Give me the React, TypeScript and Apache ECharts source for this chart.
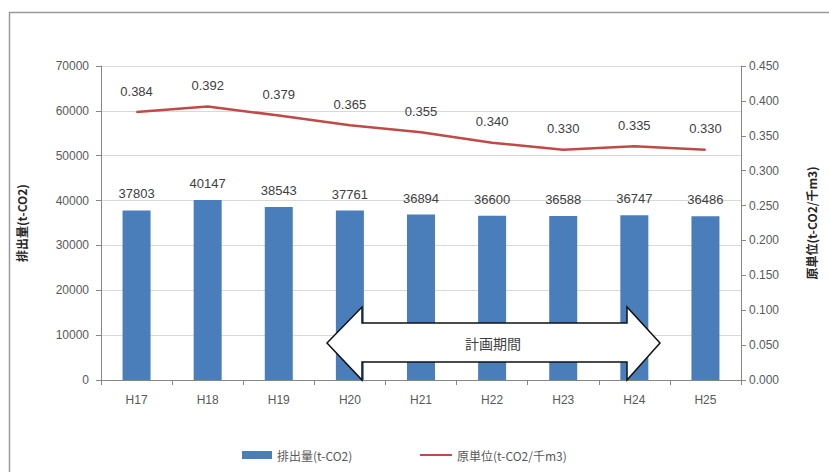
import React, { useEffect, useRef } from "react";
import * as echarts from "echarts";

const categories = ["H17", "H18", "H19", "H20", "H21", "H22", "H23", "H24", "H25"];
const emissions = [37803, 40147, 38543, 37761, 36894, 36600, 36588, 36747, 36486];
const intensity = [0.384, 0.392, 0.379, 0.365, 0.355, 0.34, 0.33, 0.335, 0.33];
const barName = "排出量(t-CO2)";
const lineName = "原単位(t-CO2/千m3)";
const arrowText = "計画期間";

const JP = '"Noto Sans CJK JP", "Noto Sans", sans-serif';
const NUM = '"Liberation Sans", "DejaVu Sans", sans-serif';

export default function App() {
  const ref = useRef<HTMLDivElement>(null);
  useEffect(() => {
    if (!ref.current) return;
    const chart = echarts.init(ref.current, null, { renderer: "svg" });
    const arrowPts = [
      [327, 343],
      [362, 307],
      [362, 323],
      [627, 323],
      [627, 307],
      [660, 343],
      [627, 380],
      [627, 362],
      [362, 362],
      [362, 380],
    ];
    const legendText = { fontFamily: JP, fontSize: 12, color: "#595959" };
    chart.setOption({
      animation: false,
      backgroundColor: "#ffffff",
      grid: { left: 101, right: 88, top: 66, bottom: 92 },
      legend: [
        {
          left: 237,
          top: 444,
          itemWidth: 30,
          itemHeight: 8,
          textStyle: legendText,
          data: [{ name: barName, icon: "rect" }],
        },
        {
          left: 415,
          top: 444,
          itemWidth: 32,
          itemHeight: 2,
          textStyle: legendText,
          data: [{ name: lineName, icon: "rect" }],
        },
      ],
      xAxis: {
        type: "category",
        data: categories,
        axisLine: { lineStyle: { color: "#868686" } },
        axisTick: { show: true, length: 5, lineStyle: { color: "#868686" } },
        axisLabel: { color: "#595959", fontFamily: NUM, fontSize: 12, margin: 14 },
      },
      yAxis: [
        {
          type: "value",
          min: 0,
          max: 70000,
          interval: 10000,
          name: barName,
          nameLocation: "middle",
          nameGap: 74,
          nameRotate: 90,
          nameTextStyle: { fontFamily: JP, fontSize: 12, fontWeight: "bold", color: "#262626" },
          axisLine: { show: true, lineStyle: { color: "#868686" } },
          axisTick: { show: true, length: 5, lineStyle: { color: "#868686" } },
          axisLabel: {
            color: "#595959",
            fontFamily: NUM,
            fontSize: 12,
            margin: 12,
            formatter: (v: number) => String(v),
          },
          splitLine: { lineStyle: { color: "#d9d9d9" } },
        },
        {
          type: "value",
          min: 0,
          max: 0.45,
          interval: 0.05,
          name: lineName,
          nameLocation: "middle",
          nameGap: 64,
          nameRotate: 90,
          nameTextStyle: { fontFamily: JP, fontSize: 12, fontWeight: "bold", color: "#262626" },
          axisLine: { show: true, lineStyle: { color: "#868686" } },
          axisTick: { show: true, length: 5, lineStyle: { color: "#868686" } },
          axisLabel: {
            color: "#595959",
            fontFamily: NUM,
            fontSize: 12,
            margin: 8,
            formatter: (v: number) => v.toFixed(3),
          },
          splitLine: { show: false },
        },
      ],
      series: [
        {
          name: barName,
          type: "bar",
          data: emissions,
          barWidth: 28,
          itemStyle: { color: "#4a7ebb" },
          label: {
            show: true,
            position: "top",
            distance: 10,
            color: "#404040",
            fontFamily: NUM,
            fontSize: 13,
          },
          z: 2,
        },
        {
          name: lineName,
          type: "line",
          yAxisIndex: 1,
          data: intensity,
          symbol: "circle",
          symbolSize: 1,
          showSymbol: true,
          lineStyle: { color: "#be4b48", width: 2.5 },
          itemStyle: { color: "#be4b48" },
          label: {
            show: true,
            position: "top",
            distance: 14,
            color: "#404040",
            fontFamily: NUM,
            fontSize: 13,
            formatter: (p: any) => Number(p.value).toFixed(3),
          },
          z: 3,
        },
      ],
      graphic: [
        {
          type: "rect",
          shape: { x: 9.5, y: 12.5, width: 830, height: 470 },
          style: { fill: "none", stroke: "#9a9a9a", lineWidth: 1.5 },
          silent: true,
          z: 0,
        },
        {
          type: "polygon",
          shape: { points: arrowPts },
          style: { fill: "#ffffff", stroke: "#111111", lineWidth: 1.5 },
          z: 100,
        },
        {
          type: "text",
          x: 493,
          y: 343,
          style: {
            text: arrowText,
            fontFamily: JP,
            fontSize: 14,
            fill: "#404040",
            align: "center",
            verticalAlign: "middle",
          },
          z: 101,
        },
      ],
    });
    return () => chart.dispose();
  }, []);
  return (
    <div
      ref={ref}
      style={{ position: "absolute", left: 0, top: 0, width: 829, height: 472 }}
    />
  );
}
